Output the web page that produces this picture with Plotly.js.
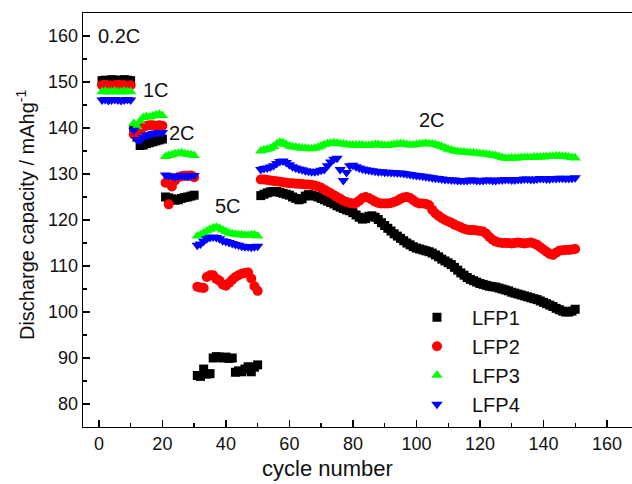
<!DOCTYPE html>
<html>
<head>
<meta charset="utf-8">
<script src="https://cdn.plot.ly/plotly-3.0.1.min.js"></script>
<style>
  html, body { margin: 0; padding: 0; background: #fff; overflow: hidden; }
  #chart { width: 632px; height: 484px; }
</style>
</head>
<body>
<div id="chart"></div>
<script>
// Cycle numbers 1..150
const cycles = [
  1,2,3,4,5,6,7,8,9,10,11,12,13,14,15,16,17,18,19,20,
  21,22,23,24,25,26,27,28,29,30,31,32,33,34,35,36,37,38,39,40,
  41,42,43,44,45,46,47,48,49,50,51,52,53,54,55,56,57,58,59,60,
  61,62,63,64,65,66,67,68,69,70,71,72,73,74,75,76,77,78,79,80,
  81,82,83,84,85,86,87,88,89,90,91,92,93,94,95,96,97,98,99,100,
  101,102,103,104,105,106,107,108,109,110,111,112,113,114,115,116,117,118,119,120,
  121,122,123,124,125,126,127,128,129,130,131,132,133,134,135,136,137,138,139,140,
  141,142,143,144,145,146,147,148,149,150
];

// Discharge capacity (mAh/g): 0.2C (1-10), 1C (11-20), 2C (21-30), 5C (31-50), 2C (51-150)
const lfp1 = [
  150.3,150.4,150.3,150.5,150.4,150.3,150.4,150.5,150.4,150.3,
  139.8,138.0,136.2,136.3,136.6,136.8,137.0,137.2,137.4,137.6,
  125.0,124.8,124.6,124.3,124.4,124.7,124.9,125.0,125.2,125.4,
  86.2,86.0,87.6,86.5,86.6,90.0,90.3,90.2,90.0,90.2,
  89.9,90.0,86.9,87.2,87.0,87.6,88.1,87.0,88.0,88.5,
  125.3,125.6,125.9,126.1,126.2,126.2,126.0,125.8,125.6,125.4,
  125.0,124.7,124.4,124.6,125.2,125.5,125.4,125.2,125.0,124.7,
  124.4,124.1,123.8,123.5,123.1,122.8,122.5,122.2,122.0,121.6,
  121.1,120.6,120.2,120.3,120.8,120.9,120.6,120.1,119.4,118.8,
  118.2,117.6,117.0,116.5,116.0,115.5,115.0,114.6,114.2,113.9,
  113.7,113.5,113.3,113.1,112.8,112.4,112.0,111.5,111.1,110.7,
  110.3,109.7,109.1,108.5,108.0,107.5,107.1,106.8,106.5,106.2,
  106.0,105.8,105.6,105.5,105.4,105.2,105.0,104.8,104.6,104.3,
  104.1,103.9,103.7,103.5,103.3,103.1,102.9,102.7,102.4,102.1,
  101.8,101.5,101.2,100.8,100.5,100.2,100.0,100.0,100.2,100.6
];
const lfp2 = [
  149.3,149.4,149.3,149.2,149.3,149.4,149.3,149.3,149.2,149.3,
  138.6,138.3,139.3,140.2,140.5,140.6,140.6,140.5,140.6,140.5,
  128.1,123.4,127.3,128.6,129.3,129.5,129.6,129.6,129.7,129.3,
  105.5,105.3,105.2,107.6,108.0,108.0,107.2,106.8,106.0,105.7,
  106.3,107.0,107.6,108.0,108.3,108.5,108.6,107.3,105.6,104.6,
  128.8,128.8,128.7,128.6,128.5,128.4,128.3,128.2,128.1,128.0,
  128.0,127.9,127.9,127.8,127.7,127.7,127.6,127.5,127.3,127.0,
  126.6,126.2,125.8,125.4,125.0,124.6,124.2,123.9,123.7,123.6,
  123.7,124.2,124.8,125.0,124.8,124.4,124.0,123.7,123.6,123.6,
  123.6,123.7,123.9,124.2,124.6,124.9,125.0,124.8,124.3,123.8,
  123.6,123.6,123.5,123.2,122.2,121.4,120.9,120.4,120.0,119.7,
  119.4,119.0,118.7,118.4,118.1,117.9,117.8,117.8,117.7,117.6,
  117.5,117.0,116.3,115.7,115.3,115.1,115.0,115.0,115.0,114.9,
  115.0,115.1,115.0,114.9,115.0,115.1,114.9,114.6,114.1,113.6,
  113.1,112.6,112.4,112.9,113.3,113.4,113.5,113.5,113.6,113.7
];
const lfp3 = [
  147.9,148.0,147.8,147.9,148.0,147.9,147.8,148.0,147.9,147.9,
  141.0,140.3,141.5,142.3,142.5,142.4,142.6,142.8,143.0,142.7,
  133.8,134.0,134.2,134.4,134.5,134.6,134.4,134.3,134.2,134.0,
  116.5,116.8,117.2,117.6,118.0,118.3,118.4,118.2,117.8,117.5,
  117.2,117.0,116.9,116.8,116.8,116.7,116.7,116.8,116.8,116.5,
  135.0,135.2,135.4,135.6,136.0,136.5,136.9,136.8,136.4,136.1,
  135.9,135.8,135.7,135.6,135.6,135.5,135.5,135.6,135.8,136.1,
  136.4,136.6,136.7,136.8,136.7,136.6,136.5,136.4,136.3,136.3,
  136.3,136.3,136.3,136.2,136.2,136.3,136.4,136.4,136.3,136.2,
  136.2,136.3,136.4,136.5,136.6,136.5,136.4,136.3,136.3,136.4,
  136.5,136.6,136.7,136.6,136.5,136.4,136.2,136.0,135.7,135.4,
  135.2,135.0,134.9,134.8,134.8,134.7,134.6,134.6,134.5,134.4,
  134.4,134.3,134.2,134.1,134.0,133.8,133.6,133.4,133.4,133.5,
  133.5,133.5,133.6,133.6,133.6,133.6,133.7,133.7,133.7,133.7,
  133.8,133.8,133.8,133.9,133.9,133.8,133.8,133.7,133.6,133.5
];
const lfp4 = [
  146.1,146.2,146.0,146.1,146.2,146.1,146.0,146.1,146.2,146.1,
  139.5,137.5,137.3,138.0,138.4,138.6,138.8,138.9,139.0,139.0,
  129.8,129.6,129.5,129.4,129.5,129.6,129.6,129.5,129.6,129.7,
  114.5,114.8,115.4,115.9,116.2,116.3,116.2,115.9,115.5,115.3,
  115.1,114.9,114.7,114.5,114.3,114.2,114.2,114.1,114.2,114.3,
  131.0,131.2,131.3,131.5,131.8,132.3,132.7,132.8,132.5,132.0,
  131.6,131.3,131.1,130.9,130.7,130.6,130.5,130.5,130.6,130.8,
  131.0,131.8,132.6,133.2,133.4,131.0,128.6,130.3,131.8,131.9,
  131.6,131.3,131.1,130.9,130.8,130.7,130.6,130.5,130.5,130.4,
  130.4,130.3,130.3,130.2,130.2,130.1,130.0,129.9,129.8,129.7,
  129.6,129.5,129.4,129.3,129.2,129.1,129.0,128.9,128.8,128.8,
  128.7,128.7,128.6,128.6,128.6,128.6,128.7,128.7,128.6,128.6,
  128.6,128.7,128.7,128.6,128.6,128.7,128.7,128.8,128.8,128.7,
  128.7,128.8,128.8,128.9,128.9,128.8,128.8,128.9,129.0,129.0,
  128.9,128.9,129.0,129.0,129.1,129.1,129.0,129.0,129.1,129.2
];

const seriesNames = ['LFP1', 'LFP2', 'LFP3', 'LFP4'];
const seriesValues = [lfp1, lfp2, lfp3, lfp4];
const seriesColors = ['#000000', '#ff0000', '#00ff00', '#0000ff'];
const seriesSymbols = ['square', 'circle', 'triangle-up', 'triangle-down'];
const seriesSizes = [9, 10, 10, 10];

// C-rate labels placed beside each step
const rateLabels = ['0.2C', '1C', '2C', '5C', '2C'];
const rateX = [-0.8, 13.4, 21.6, 35.8, 100.1];
const rateY = [160, 148.3, 138.9, 123.0, 141.7];

const FONT = 'Liberation Sans, Arial, Helvetica, sans-serif';

const traces = seriesNames.map((name, i) => ({
  type: 'scatter',
  mode: 'markers',
  name: name,
  x: cycles,
  y: seriesValues[i],
  marker: { symbol: seriesSymbols[i], color: seriesColors[i], size: seriesSizes[i], line: { width: 0 } }
}));

const annotations = rateLabels.map((t, i) => ({
  text: t, x: rateX[i], y: rateY[i], xref: 'x', yref: 'y',
  xanchor: 'left', yanchor: 'middle', showarrow: false,
  font: { family: FONT, size: 20, color: '#111' }
}));

annotations.push({
  text: 'cycle number', xref: 'paper', yref: 'paper', x: 0.446, y: -0.1,
  xanchor: 'center', yanchor: 'middle', showarrow: false,
  font: { family: FONT, size: 22, color: '#111' }
});
annotations.push({
  text: 'Discharge capacity / mAhg<sup>-1</sup>', xref: 'paper', yref: 'paper',
  x: -0.1056, y: 0.512, xanchor: 'center', yanchor: 'middle', textangle: -90,
  showarrow: false, font: { family: FONT, size: 20, color: '#111' }
});

const axisCommon = {
  showgrid: false, zeroline: false,
  showline: true, linecolor: '#000', linewidth: 1.3,
  ticks: 'inside', ticklen: 7, tickwidth: 1.3, tickcolor: '#000',
  tickfont: { family: FONT, size: 18, color: '#111' }
};

const layout = {
  width: 632, height: 484,
  margin: { l: 83, r: 0, t: 13, b: 57 },
  paper_bgcolor: '#fff', plot_bgcolor: '#fff',
  font: { family: FONT, color: '#111' },
  xaxis: Object.assign({}, axisCommon, {
    range: [-5, 167.9], tick0: 0, dtick: 20, mirror: true,
    minor: { dtick: 10, tick0: 0, ticks: 'inside', ticklen: 4, tickwidth: 1.3, tickcolor: '#000' }
  }),
  yaxis: Object.assign({}, axisCommon, {
    range: [75, 165], tick0: 0, dtick: 10,
    minor: { dtick: 5, tick0: 0, ticks: 'inside', ticklen: 4, tickwidth: 1.3, tickcolor: '#000' }
  }),
  showlegend: true,
  legend: {
    x: 0.581, y: 0.312, xanchor: 'left', yanchor: 'top',
    bgcolor: 'rgba(0,0,0,0)', borderwidth: 0, itemwidth: 60,
    font: { family: FONT, size: 20, color: '#111' }
  },
  annotations: annotations
};

Plotly.newPlot('chart', traces, layout, { displayModeBar: false, staticPlot: true });
</script>
</body>
</html>
